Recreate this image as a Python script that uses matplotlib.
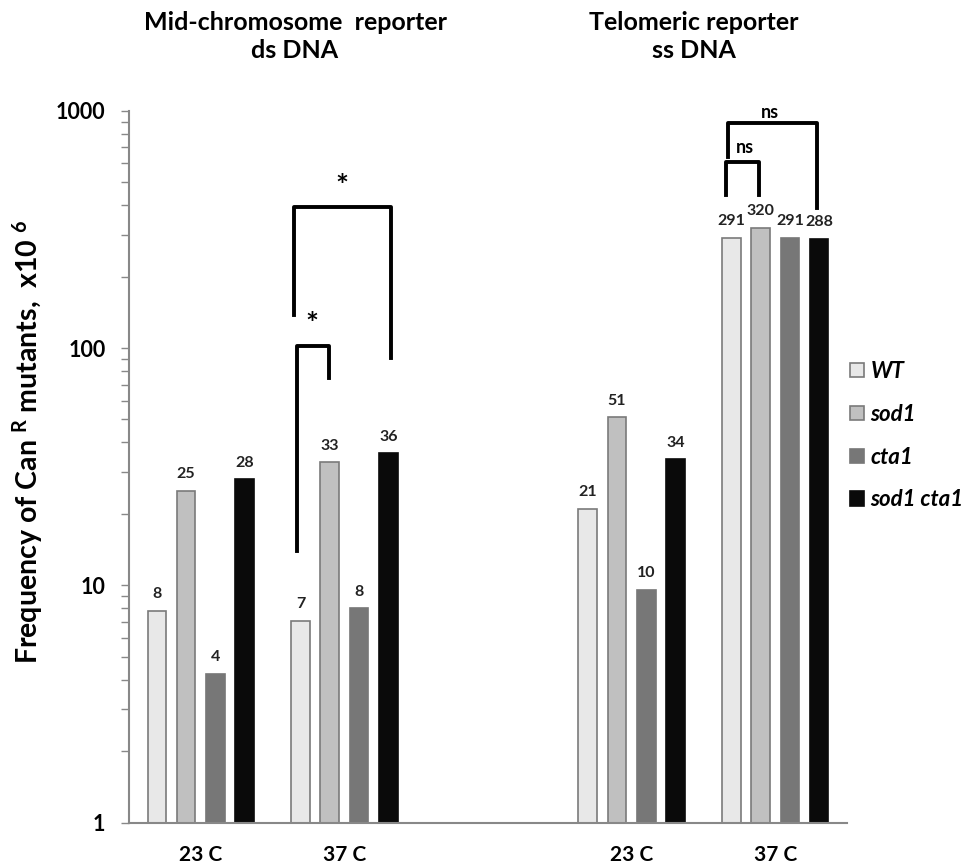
import numpy as np
import matplotlib.pyplot as plt
from matplotlib.patches import Patch

plt.rcParams['font.family'] = ['Lato', 'DejaVu Sans']
plt.rcParams['mathtext.default'] = 'regular'

# categories: two reporters x two temperatures, empty slot between reporters
categories = ['23 C', '37 C', '', '23 C', '37 C']
cat_pos = [0, 1, 3, 4]
strains = ['WT', 'sod1', 'cta1', 'sod1 cta1']

wt = [7.8, 7.1, 21, 291]
sod1 = [25, 33, 51, 320]
cta1 = [4.24, 8.0, 9.6, 291]
sod1_cta1 = [28, 36, 34, 288]
series = [wt, sod1, cta1, sod1_cta1]

colors = ['#e8e8e8', '#c0c0c0', '#777777', '#0a0a0a']
edges = ['#7a7a7a', '#7a7a7a', '#777777', '#0a0a0a']

fig = plt.figure(figsize=(9.73, 8.65), dpi=100)
ax = fig.add_axes([129/973, 1 - 822.7/865, (847 - 129)/973, (822.7 - 110.7)/865])

width = 0.13
step = 0.204
offsets = (np.arange(4) - 1.5) * step
for i, vals in enumerate(series):
    x = np.array(cat_pos) + offsets[i]
    ax.bar(x, vals, width, color=colors[i], edgecolor=edges[i], linewidth=1.2, zorder=2)
    for xi, v in zip(x, vals):
        ax.annotate(f'{v:.0f}', (xi, v), xytext=(0, 7), textcoords='offset points',
                    ha='center', va='bottom', fontsize=11.5, fontweight='bold', color='#222222')

ax.set_yscale('log')
ax.set_ylim(1, 1000)
ax.set_xlim(-0.5, 4.5)
ax.set_yticks([1, 10, 100, 1000])
ax.set_yticklabels(['1', '10', '100', '1000'])
ax.tick_params(axis='y', which='major', length=6, width=1, color='#888888',
               labelsize=15.5, pad=11)
ax.tick_params(axis='y', which='minor', length=6, width=1, color='#888888')
for lab in ax.get_yticklabels():
    lab.set_fontweight('bold')
ax.set_xticks(range(5))
ax.set_xticklabels(categories, fontsize=15, fontweight='bold')
ax.tick_params(axis='x', length=0, pad=16)
ax.spines['top'].set_visible(False)
ax.spines['right'].set_visible(False)
for s in ['left', 'bottom']:
    ax.spines[s].set_color('#888888')
    ax.spines[s].set_linewidth(1.5)

# significance brackets: (x left, x right, top, left bottom, right bottom)
brackets = [
    (0.652, 1.324, 391, 138, 91),
    (0.669, 0.895, 102, 13.9, 75),
    (3.671, 4.288, 885, 638, 389),
    (3.657, 3.887, 610, 442, 442),
]
for xl, xr, top, lb, rb in brackets:
    ax.plot([xl, xl, xr, xr], [lb, top, top, rb], color='black', lw=2.8,
            solid_joinstyle='round', zorder=3)

marks = [(0.981, 479, '*', 22), (0.774, 125, '*', 22),
         (3.964, 979, 'ns', 13), (3.786, 699, 'ns', 13)]
for x, y, t, fs in marks:
    ax.text(x, y, t, ha='center', va='center', fontsize=fs, fontweight='bold')

title_kw = dict(ha='center', va='center', fontsize=18, fontweight='bold')
fig.text(295/973, 1 - 22/865, 'Mid-chromosome  reporter', **title_kw)
fig.text(295/973, 1 - 50/865, 'ds DNA', **title_kw)
fig.text(694/973, 1 - 22/865, 'Telomeric reporter', **title_kw)
fig.text(694/973, 1 - 50/865, 'ss DNA', **title_kw)

fig.text(28/973, 1 - 442/865, 'Frequency of Can $^{R}$ mutants,  x10 $^{6}$',
         rotation=90, ha='center', va='center', fontsize=20.5, fontweight='bold')

handles = [Patch(facecolor=c, edgecolor=e, linewidth=1.2) for c, e in zip(colors, edges)]
leg = fig.legend(handles, strains, loc='upper left', bbox_to_anchor=(850/973, 1 - 361/865),
                 frameon=False, handlelength=0.62, handleheight=0.62, handletextpad=0.3,
                 labelspacing=0.98, borderpad=0, borderaxespad=0,
                 prop={'size': 16, 'weight': 'bold', 'style': 'italic'})

fig.savefig('out.png', dpi=100)
